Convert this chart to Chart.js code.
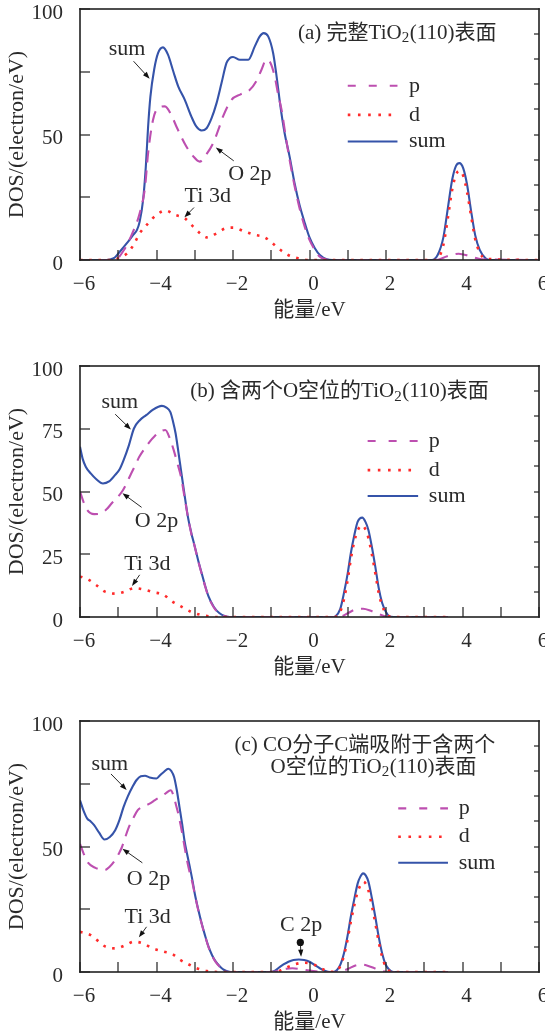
<!DOCTYPE html>
<html><head><meta charset="utf-8">
<script src="https://cdn.jsdelivr.net/npm/chart.js@4.4.0/dist/chart.umd.min.js"></script>
<style>
html,body{margin:0;padding:0;background:#fff;overflow:hidden;width:545px;height:1035px;position:relative}
canvas{position:absolute;left:0}
</style></head><body>
<canvas id="ca" width="545" height="325" style="top:0px"></canvas>
<canvas id="cb" width="545" height="325" style="top:357px"></canvas>
<canvas id="cc" width="545" height="325" style="top:712px"></canvas>
<script>
// ---------- data ----------
const seriesLabels = ['p', 'd', 'sum'];
const xTickValues = [-6, -4, -2, 0, 2, 4, 6];
const xTickLabels = ['−6', '−4', '−2', '0', '2', '4', '6'];
const aYTickLabels = ['0', '50', '100'];
const bYTickLabels = ['0', '25', '50', '75', '100'];
const cYTickLabels = ['0', '50', '100'];
const xAxisTitle = '能量/eV';
const yAxisTitle = 'DOS/(electron/eV)';

// panel (a)
const aSumE = [-6, -5.3, -5.22, -5.09, -4.96, -4.78, -4.61, -4.51, -4.44, -4.35, -4.28, -4.22, -4.16, -4.06, -3.96, -3.83, -3.70, -3.56, -3.43, -3.26, -3.09, -2.96, -2.82, -2.69, -2.56, -2.43, -2.30, -2.17, -2.08, -2.0, -1.82, -1.60, -1.43, -1.30, -1.20, -1.08, -0.95, -0.86, -0.76, -0.65, -0.52, -0.39, -0.26, -0.12, 0, 0.14, 0.27, 0.45, 0.6, 3.2, 3.35, 3.5, 3.62, 3.73, 3.83, 3.92, 4.02, 4.12, 4.22, 4.33, 4.45, 4.6, 4.7, 6];
const aSumV = [0, 0, 0.2, 1, 3.3, 6.6, 10, 12, 15.3, 24, 37, 53, 65, 76, 82.4, 84.7, 81.8, 75.1, 69.1, 63.8, 57.2, 53.2, 51.6, 52.5, 56.5, 62.5, 70.5, 78.5, 80.5, 80.9, 79.8, 79.8, 85.1, 89.1, 90.4, 89.1, 82.4, 73.1, 61.2, 50.5, 41.2, 30.6, 21.9, 14.6, 9, 4.7, 2, 0.3, 0, 0, 2, 9, 21, 32, 37.5, 38.6, 36.5, 30, 20, 10, 4, 0.7, 0, 0];
const aPE = [-6, -5.2, -5.05, -4.85, -4.65, -4.44, -4.30, -4.22, -4.09, -3.96, -3.78, -3.62, -3.48, -3.22, -3.05, -2.87, -2.70, -2.52, -2.38, -2.26, -2.04, -1.80, -1.56, -1.40, -1.25, -1.13, -1.02, -0.91, -0.82, -0.73, -0.62, -0.52, -0.39, -0.25, -0.12, 0, 0.14, 0.27, 0.45, 0.6, 3.3, 3.6, 3.9, 4.2, 4.5, 6];
const aPV = [0, 0, 0.3, 4, 10, 18.6, 29, 42.5, 55.9, 60.5, 61.2, 58, 53.2, 45.2, 41.5, 39.2, 42, 46.5, 52, 57.2, 63.8, 66, 67.8, 71, 76, 79.8, 78.5, 73.1, 66, 59.8, 49, 39.9, 29.5, 20, 13, 8, 4, 1.3, 0.2, 0, 0, 1.5, 2.5, 1.5, 0.3, 0];
const aDE = [-6, -5.1, -5.0, -4.78, -4.60, -4.44, -4.22, -4.0, -3.76, -3.52, -3.26, -3.04, -2.85, -2.69, -2.43, -2.20, -2.0, -1.69, -1.43, -1.21, -1.04, -0.82, -0.56, -0.30, 0, 3.3, 3.5, 3.62, 3.73, 3.83, 3.92, 4.02, 4.12, 4.22, 4.33, 4.45, 4.6, 6];
const aDV = [0, 0, 0.7, 2.5, 6, 10.6, 14.6, 18, 19.7, 18, 16.6, 13.3, 10.5, 9.0, 10.6, 12.6, 12.9, 11.3, 10, 9.3, 7.7, 4.7, 2, 0.7, 0, 0, 6, 17, 28, 34, 35.5, 33.5, 27, 18, 8.5, 3, 0.5, 0];

// panel (b)
const bSumE = [-6, -5.93, -5.85, -5.72, -5.58, -5.40, -5.24, -5.08, -4.96, -4.86, -4.72, -4.59, -4.43, -4.27, -4.10, -3.95, -3.86, -3.75, -3.64, -3.57, -3.50, -3.43, -3.36, -3.27, -3.18, -3.09, -3.0, -2.91, -2.82, -2.73, -2.64, -2.50, -2.36, -2.2, -2.09, 0.6, 0.68, 0.80, 0.90, 1.0, 1.08, 1.17, 1.26, 1.38, 1.46, 1.54, 1.63, 1.72, 1.81, 1.90, 2.0, 2.08, 2.2, 3.62];
const bSumV = [67.8, 63, 59.9, 57.2, 55, 53.2, 54, 56.6, 59, 62.5, 68.5, 75.1, 78.5, 80.4, 82.5, 83.8, 84.1, 83.5, 81.7, 78, 73.1, 66, 58.5, 49, 40, 33.5, 28.1, 22.5, 17.5, 12.5, 8.2, 4, 1.6, 0.3, 0, 0, 0.3, 3, 9.5, 17.5, 25.4, 32.5, 38, 39.6, 38, 34.7, 28, 20.1, 11.5, 5.6, 2, 0.3, 0, 0];
const bPE = [-6, -5.9, -5.81, -5.63, -5.45, -5.30, -5.17, -5.03, -4.90, -4.79, -4.68, -4.56, -4.45, -4.30, -4.18, -4.05, -3.91, -3.77, -3.66, -3.55, -3.45, -3.36, -3.27, -3.18, -3.09, -3.0, -2.91, -2.82, -2.73, -2.64, -2.5, -2.36, -2.2, -2.09, 0.7, 0.85, 1.0, 1.2, 1.4, 1.6, 1.8, 2.0, 2.1, 3.62];
const bPV = [50, 45.5, 42.6, 41, 41.3, 43, 45.3, 47.5, 50, 53, 56.6, 60.3, 63.8, 67.3, 69.8, 72, 73.8, 74.5, 71.5, 66.5, 61, 55.9, 48, 40, 33.2, 28, 22.3, 17.3, 12.3, 8, 3.8, 1.4, 0.2, 0, 0, 0.3, 1.5, 3, 3.3, 2.5, 1.2, 0.2, 0, 0];
const bDE = [-6, -5.77, -5.58, -5.36, -5.08, -4.81, -4.59, -4.32, -4.09, -3.82, -3.59, -3.36, -3.13, -2.86, -2.64, -2.4, 0.65, 0.80, 0.90, 1.0, 1.08, 1.17, 1.26, 1.38, 1.46, 1.54, 1.63, 1.72, 1.81, 1.90, 2.0, 2.1, 2.2, 3.62];
const bDV = [16.2, 14.8, 12.8, 10.2, 9.3, 10.2, 11.5, 10.9, 9.9, 8.9, 6.2, 4.2, 2.3, 0.9, 0.3, 0, 0, 2, 7, 15, 23, 30, 34.5, 36.5, 35, 31.5, 25, 17.5, 9.5, 4.5, 1.5, 0.2, 0, 0];

// panel (c)
const cSumE = [-6, -5.9, -5.81, -5.72, -5.63, -5.50, -5.36, -5.22, -5.08, -4.97, -4.86, -4.75, -4.63, -4.52, -4.41, -4.30, -4.18, -4.0, -3.90, -3.81, -3.69, -3.61, -3.54, -3.47, -3.40, -3.33, -3.27, -3.20, -3.13, -3.06, -3.0, -2.91, -2.82, -2.73, -2.64, -2.55, -2.45, -2.33, -2.23, -2.1, -2.0, -1.0, -0.9, -0.82, -0.68, -0.55, -0.42, -0.28, -0.14, 0.0, 0.13, 0.27, 0.4, 0.54, 0.62, 0.72, 0.81, 0.90, 0.99, 1.08, 1.17, 1.26, 1.33, 1.40, 1.47, 1.54, 1.63, 1.72, 1.81, 1.90, 1.99, 2.08, 2.2, 3.62];
const cSumV = [68.4, 64, 61.1, 60, 58.5, 55.5, 52.8, 53.8, 56.5, 60.5, 65.8, 70, 73.7, 76.5, 78.0, 78.2, 77.5, 77.1, 78.5, 79.7, 81.0, 80, 77.7, 72.5, 65.8, 59, 52.5, 47, 41.9, 36.5, 31.3, 25, 19.4, 14.5, 10.1, 6.8, 4.1, 2, 0.8, 0.1, 0, 0, 0.5, 1.5, 3, 4.1, 4.8, 5.0, 4.8, 4.1, 2.8, 1.5, 0.5, 0, 0, 0.8, 3, 7.4, 14, 22, 29, 35.3, 38, 39.3, 38.5, 36, 29.5, 22, 14, 7.4, 3, 1, 0, 0];
const cPE = [-6, -5.9, -5.81, -5.6, -5.36, -5.22, -5.08, -4.99, -4.90, -4.81, -4.72, -4.6, -4.49, -4.33, -4.18, -4.04, -3.90, -3.76, -3.63, -3.56, -3.50, -3.43, -3.36, -3.29, -3.22, -3.13, -3.06, -3.0, -2.91, -2.82, -2.73, -2.64, -2.55, -2.45, -2.33, -2.23, -2.1, -1.0, -0.8, -0.6, -0.45, -0.3, -0.1, 0.1, 0.3, 0.5, 0.8, 1.0, 1.2, 1.35, 1.5, 1.7, 1.9, 2.05, 3.62];
const cPV = [51, 47, 43.9, 41.5, 40.6, 42, 44.6, 47, 49.9, 54, 57.8, 61.5, 64.5, 66, 67.1, 68.5, 69.8, 71.2, 72.4, 70.5, 67.1, 63, 57.8, 52, 45.9, 39.5, 35.5, 31, 24.7, 19.2, 14.3, 9.9, 6.6, 3.9, 1.8, 0.6, 0, 0, 0.5, 1.3, 1.5, 1.3, 0.8, 0.4, 0.1, 0, 0.2, 1.2, 2.6, 3, 2.6, 1.5, 0.4, 0, 0];
const cDE = [-6, -5.86, -5.72, -5.54, -5.36, -5.08, -4.81, -4.59, -4.36, -4.09, -3.81, -3.59, -3.40, -3.18, -2.95, -2.68, -2.4, -0.9, -0.64, -0.38, -0.12, 0.14, 0.35, 0.55, 0.7, 0.81, 0.90, 0.99, 1.08, 1.17, 1.26, 1.33, 1.40, 1.47, 1.54, 1.63, 1.72, 1.81, 1.90, 1.99, 2.08, 2.2, 3.62];
const cDV = [16, 15.5, 14.7, 12.5, 10.3, 9.4, 10.7, 12.1, 11.4, 9.4, 8.1, 7.2, 5.0, 3.2, 1.5, 0.4, 0, 0, 1.5, 3.1, 3.7, 2.8, 1.1, 0.1, 0.3, 2.5, 6.5, 12.5, 20, 26.5, 32, 34.5, 36, 35.2, 32.5, 26.5, 19.5, 12, 6, 2.2, 0.5, 0, 0];

// titles: odd-index segments are subscripts
const aTitle = [['(a) 完整TiO', '2', '(110)表面']];
const bTitle = [['(b) 含两个O空位的TiO', '2', '(110)表面']];
const cTitle = [['(c) CO分子C端吸附于含两个'], ['O空位的TiO', '2', '(110)表面']];
const noteSum = 'sum', noteO2p = 'O 2p', noteTi3d = 'Ti 3d', noteC2p = 'C 2p';

// ---------- styling ----------
const FAMILY = "'Liberation Serif', 'Noto Sans CJK SC', serif";
const TEXT = '#2a2a2a';
const NOTE_FONT = '22px ' + FAMILY;
Chart.defaults.font.family = FAMILY;
Chart.defaults.font.size = 21;
Chart.defaults.color = TEXT;

const STYLE = {
  p:   {borderColor: '#bd4fb0', borderWidth: 2.1, borderDash: [12, 8], order: 1},
  d:   {borderColor: '#ff2b2b', borderWidth: 2.6, borderDash: [2.6, 6.6], order: 0},
  sum: {borderColor: '#3553a9', borderWidth: 2.1, borderDash: [], order: 2}
};
const LEGEND_DASH = {p: [8, 13], d: [2.6, 7.6], sum: []};

// annotation placement (data units)
const DECOR = {
  ca: {
    legend: {x0: 1.0, x1: 2.3, xt: 2.6, rows: [69.4, 57.8, 47.2]},
    title: [{segs: aTitle[0], x: -0.30, y: 90.4}],
    texts: [{t: noteSum, x: -4.77, y: 83.8}, {t: noteO2p, x: -1.56, y: 34.2}, {t: noteTi3d, x: -2.66, y: 25.6}],
    arrows: [[-4.60, 79.2, -4.18, 72.2], [-1.98, 39.5, -2.45, 44.8], [-3.02, 20.9, -3.27, 17]],
    dots: []
  },
  cb: {
    legend: {x0: 1.52, x1: 2.84, xt: 3.12, rows: [70.1, 58.5, 48.2]},
    title: [{segs: bTitle[0], x: -3.12, y: 89.7}],
    texts: [{t: noteSum, x: -4.96, y: 85.7}, {t: noteO2p, x: -4.0, y: 38.0}, {t: noteTi3d, x: -4.24, y: 21.2}],
    arrows: [[-5.08, 80.8, -4.67, 74.7], [-4.39, 43.7, -4.89, 49.3], [-4.44, 16.8, -4.64, 12.4]],
    dots: []
  },
  cc: {
    legend: {x0: 2.32, x1: 3.62, xt: 3.90, rows: [65.2, 53.9, 43.5]},
    title: [{segs: cTitle[0], x: -1.96, y: 90.4}, {segs: cTitle[1], x: -1.02, y: 81.6}],
    texts: [{t: noteSum, x: -5.22, y: 82.9}, {t: noteO2p, x: -4.21, y: 36.9}, {t: noteTi3d, x: -4.23, y: 22}, {t: noteC2p, x: -0.22, y: 18.7}],
    arrows: [[-5.19, 78.9, -4.78, 72.5], [-4.37, 43.5, -4.89, 49.1], [-4.26, 18, -4.46, 13.8], [-0.24, 11.8, -0.22, 6.1]],
    dots: [[-0.24, 11.8]]
  }
};

function drawArrow(ctx, x1, y1, x2, y2) {
  const ang = Math.atan2(y2 - y1, x2 - x1), L = 7, W = 2.6;
  const c = Math.cos(ang), s = Math.sin(ang);
  ctx.strokeStyle = '#111'; ctx.fillStyle = '#111'; ctx.lineWidth = 0.9; ctx.setLineDash([]);
  ctx.beginPath(); ctx.moveTo(x1, y1); ctx.lineTo(x2 - L * 0.7 * c, y2 - L * 0.7 * s); ctx.stroke();
  ctx.beginPath(); ctx.moveTo(x2, y2);
  ctx.lineTo(x2 - L * c + W * s, y2 - L * s - W * c);
  ctx.lineTo(x2 - L * c - W * s, y2 - L * s + W * c);
  ctx.closePath(); ctx.fill();
}

function drawRich(ctx, segs, x, y) {
  let cx = x;
  ctx.textAlign = 'left'; ctx.textBaseline = 'middle'; ctx.fillStyle = TEXT;
  segs.forEach((t, i) => {
    const sub = i % 2 === 1;
    ctx.font = (sub ? '15px ' : '21px ') + FAMILY;
    ctx.fillText(t, cx, sub ? y + 5 : y);
    cx += ctx.measureText(t).width + (sub ? 0.5 : 0);
  });
}

function drawFrame(chart) {
  const ctx = chart.ctx;
  const X = v => chart.scales.x.getPixelForValue(v), Y = v => chart.scales.y.getPixelForValue(v);
  const L = X(-6), R = X(6), T = Y(100), B = Y(0);
  ctx.save();
  ctx.fillStyle = '#222222';
  for (let v = -6; v <= 6; v++) { const px = Math.round(X(v)); ctx.fillRect(px - 0.6, B - 10, 1.2, 10); }
  for (let v = 0; v <= 100; v += 25) { const py = Math.round(Y(v)); ctx.fillRect(L, py - 0.6, 10, 1.2); }
  for (let v = 10; v < 100; v += 10) { const py = Math.round(Y(v)); ctx.fillRect(R - 5, py - 0.6, 5, 1.2); }
  ctx.fillRect(L - 0.8, T - 0.8, R - L + 1.6, 1.6);
  ctx.fillRect(L - 0.8, B - 0.8, R - L + 1.6, 1.6);
  ctx.fillRect(L - 0.8, T - 0.8, 1.6, B - T + 1.6);
  ctx.fillRect(R - 0.8, T - 0.8, 1.6, B - T + 1.6);
  ctx.restore();
}

const decorPlugin = {
  id: 'decor',
  afterDatasetsDraw(chart) {
    try { drawFrame(chart); } catch (e) {}
    try {
      const dec = DECOR[chart.canvas.id];
      const ctx = chart.ctx;
      const X = v => chart.scales.x.getPixelForValue(v), Y = v => chart.scales.y.getPixelForValue(v);
      ctx.save();
      chart.data.datasets.forEach((ds, i) => {
        const py = Y(dec.legend.rows[i]);
        ctx.beginPath();
        ctx.strokeStyle = ds.borderColor; ctx.lineWidth = ds.borderWidth;
        ctx.setLineDash(LEGEND_DASH[ds.label]);
        ctx.moveTo(X(dec.legend.x0), py); ctx.lineTo(X(dec.legend.x1), py); ctx.stroke();
        ctx.setLineDash([]);
        ctx.fillStyle = TEXT; ctx.font = NOTE_FONT; ctx.textBaseline = 'middle'; ctx.textAlign = 'left';
        ctx.fillText(ds.label, X(dec.legend.xt), py);
      });
      dec.title.forEach(l => drawRich(ctx, l.segs, X(l.x), Y(l.y)));
      ctx.font = NOTE_FONT; ctx.textAlign = 'center'; ctx.textBaseline = 'middle'; ctx.fillStyle = TEXT;
      dec.texts.forEach(t => ctx.fillText(t.t, X(t.x), Y(t.y)));
      dec.arrows.forEach(a => drawArrow(ctx, X(a[0]), Y(a[1]), X(a[2]), Y(a[3])));
      dec.dots.forEach(d => { ctx.beginPath(); ctx.fillStyle = '#111'; ctx.arc(X(d[0]), Y(d[1]), 3.6, 0, Math.PI * 2); ctx.fill(); });
      ctx.restore();
    } catch (e) {}
  }
};

function pts(E, V) { return E.map((e, i) => ({x: e, y: V[i]})); }

function makeChart(id, series, yLabels) {
  const datasets = seriesLabels.map((name, k) => Object.assign({
    label: name, data: pts(series[k][0], series[k][1]), pointRadius: 0, fill: false,
    cubicInterpolationMode: 'monotone', borderJoinStyle: 'round', borderCapStyle: 'butt'
  }, STYLE[name]));
  return new Chart(document.getElementById(id), {
    type: 'line',
    data: {datasets},
    options: {
      responsive: false, animation: false, events: [],
      layout: {padding: {top: 9, right: 6, left: 0, bottom: 0}},
      plugins: {legend: {display: false}, tooltip: {enabled: false}},
      scales: {
        x: {
          type: 'linear', min: -6, max: 6,
          grid: {display: false}, border: {display: false},
          ticks: {stepSize: 2, padding: 4, labelOffset: 4, maxRotation: 0, autoSkip: false,
            callback: v => { const i = xTickValues.indexOf(v); return i < 0 ? '' : xTickLabels[i]; }},
          title: {display: true, text: xAxisTitle, padding: {top: 0, bottom: 2}, font: {size: 21}},
          afterFit: s => { s.height = 65; s.paddingLeft = 0; s.paddingRight = 0; }
        },
        y: {
          type: 'linear', min: 0, max: 100,
          grid: {display: false}, border: {display: false},
          ticks: {stepSize: 25, padding: 9, labelOffset: 4,
            callback: v => yLabels.includes(String(v)) ? String(v) : ''},
          title: {display: true, text: yAxisTitle, padding: {top: 4, bottom: 0}, font: {size: 22}},
          afterFit: s => { s.width = 80; s.paddingTop = 0; s.paddingBottom = 0; }
        }
      }
    },
    plugins: [decorPlugin]
  });
}

makeChart('ca', [[aPE, aPV], [aDE, aDV], [aSumE, aSumV]], aYTickLabels);
makeChart('cb', [[bPE, bPV], [bDE, bDV], [bSumE, bSumV]], bYTickLabels);
makeChart('cc', [[cPE, cPV], [cDE, cDV], [cSumE, cSumV]], cYTickLabels);
</script>
</body></html>
